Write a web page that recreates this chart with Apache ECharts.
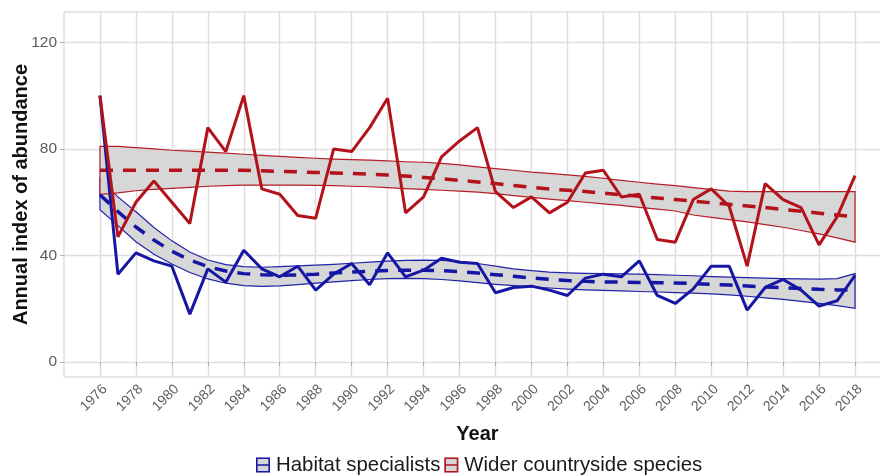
<!DOCTYPE html>
<html>
<head>
<meta charset="utf-8">
<script src="https://cdn.jsdelivr.net/npm/echarts@6/dist/echarts.min.js"></script>
<style>
html,body{margin:0;padding:0;background:#fff;}
#chart{width:880px;height:476px;}
</style>
</head>
<body>
<div id="chart"></div>
<script>
// ---- data ----
const years = [1976,1977,1978,1979,1980,1981,1982,1983,1984,1985,1986,1987,1988,1989,1990,1991,1992,1993,1994,1995,1996,1997,1998,1999,2000,2001,2002,2003,2004,2005,2006,2007,2008,2009,2010,2011,2012,2013,2014,2015,2016,2017,2018];
const xTickLabels = [1976,1978,1980,1982,1984,1986,1988,1990,1992,1994,1996,1998,2000,2002,2004,2006,2008,2010,2012,2014,2016,2018];
const yTickLabels = [0,40,80,120];
const seriesNames = ['Habitat specialists','Wider countryside species'];

// Habitat specialists (blue)
const habitatIndex = [100,33,41,38,36,18,35,30,42,35,32,36,27,33,37,29,41,32,34.5,39,37.5,37,26,28,28.5,27,25,31.5,33,32,38,25,22,27.5,36,36,19.5,28,31,27,21,23,32.5];
const habitatTrend = [62.8,56.5,50.7,45.8,41.6,38.3,35.8,34.2,33.2,32.8,32.6,32.7,33,33.4,33.8,34.1,34.4,34.5,34.5,34.3,33.9,33.4,32.8,32.2,31.6,31.1,30.6,30.3,30.1,30,29.9,29.8,29.7,29.5,29.2,28.9,28.6,28.2,27.9,27.6,27.3,27.1,27];
const habitatUpper = [68.8,62,56.4,50.5,45.5,41.3,38.3,36.6,35.8,35.6,35.8,36.1,36.4,36.7,37.1,37.5,37.9,38.2,38.3,38.2,37.8,37,36,35,34.3,33.8,33.5,33.3,33.2,33.1,33,32.8,32.6,32.4,32.1,31.9,31.7,31.5,31.3,31.2,31.1,31.3,33.2];
const habitatLower = [57.2,51.2,45.2,40.5,36.8,33.6,31.2,29.6,28.7,28.4,28.6,29.1,29.6,30.1,30.6,31,31.3,31.4,31.3,31,30.5,29.8,29.2,28.7,28.2,27.8,27.4,27.1,26.9,26.7,26.5,26.3,26.1,25.9,25.6,25.2,24.7,24.1,23.5,22.8,22,21.2,20.2];

// Wider countryside species (red)
const widerIndex = [100,47,60,68,60,52,88,79,100,65,63,55,54,80,79,88,99,56,62,77,83,88,64,58,62,56,60,71,72,62,63,46,45,61,65,58.5,36,67,61,58,44,54.5,70];
const widerTrend = [72,72,72,72,72,72,72,72,72,71.8,71.6,71.4,71.2,71,70.8,70.5,70.2,69.8,69.3,68.8,68.2,67.6,67,66.3,65.6,65,64.5,64,63.4,62.8,62.2,61.6,61,60.4,59.8,59.2,58.6,58,57.3,56.6,55.9,55.2,54.5];
const widerUpper = [81,81,80.5,80,79.5,79.2,78.8,78.4,78,77.6,77.2,76.8,76.5,76.2,76,75.8,75.5,75.2,75,74.6,74,73.3,72.6,72,71.3,70.8,70.3,69.7,69,68.2,67.5,66.8,66.2,65.5,64.8,64.2,64,64,64,64,64,64,64];
const widerLower = [63,63.5,64.3,64.8,65.2,65.6,66,66.2,66.4,66.4,66.4,66.4,66.3,66.2,66,65.8,65.5,65.1,64.8,64.5,64.2,63.8,63.2,62.5,61.8,61.2,60.6,60,59.4,58.8,58.1,57.4,56.7,55.2,54.3,53.5,52.6,51.6,50.6,49.4,48.1,46.6,45];

// ---- styling ----
const BLUE = '#1616a4';
const RED = '#b3121a';
const BAND = '#d5d5d5';
const FONT = '"Liberation Sans", Arial, sans-serif';

const pairs = (v) => years.map((y, i) => [y, v[i]]);

function bandSeries(name, lower, upper, color) {
  return {
    type: 'custom',
    name: name,
    coordinateSystem: 'cartesian2d',
    silent: true,
    data: years.map((y, i) => [y, lower[i], upper[i]]),
    encode: { x: 0, y: [1, 2] },
    renderItem: function (params, api) {
      if (params.dataIndex !== 0) return null;
      const pts = [];
      for (let i = 0; i < years.length; i++) pts.push(api.coord([years[i], upper[i]]));
      for (let i = years.length - 1; i >= 0; i--) pts.push(api.coord([years[i], lower[i]]));
      return {
        type: 'polygon',
        shape: { points: pts },
        style: { fill: BAND, stroke: color, lineWidth: 1.2, opacity: 0.95 }
      };
    },
    z: 1
  };
}

function lineSeries(name, values, color, dashed, z) {
  return {
    type: 'line',
    name: name + (dashed ? ' trend' : ' index'),
    data: pairs(values),
    symbol: 'none',
    silent: true,
    lineStyle: dashed ? { color: color, width: 3.5, type: [13, 10] } : { color: color, width: 3 },
    z: z
  };
}

const framePath = 'path://M0,0H14V15H0Z M1.6,1.6V6.7H12.4V1.6Z M1.6,8.3V13.4H12.4V8.3Z';
const legendBase = {
  orient: 'horizontal',
  left: 251,
  top: 450,
  padding: 5,
  itemWidth: 14,
  itemHeight: 15,
  itemGap: 4,
  selectedMode: false,
  textStyle: { fontFamily: FONT, fontSize: 20.4, color: '#1a1a1a', padding: [0, 0, 0, 1] }
};

const chart = echarts.init(document.getElementById('chart'), null, { renderer: 'canvas' });
chart.setOption({
  animation: false,
  backgroundColor: '#ffffff',
  textStyle: { fontFamily: FONT },
  grid: {
    left: 64, top: 12, width: 827, height: 365,
    containLabel: false,
    outerBoundsMode: 'none',
    show: true, borderColor: '#cfcfcf', borderWidth: 1, backgroundColor: '#ffffff'
  },
  legend: [
    Object.assign({}, legendBase, {
      data: [
        { name: seriesNames[0], icon: 'rect', itemStyle: { color: BAND, borderWidth: 0 } },
        { name: seriesNames[1], icon: 'rect', itemStyle: { color: BAND, borderWidth: 0 } }
      ],
      z: 5
    }),
    Object.assign({}, legendBase, {
      data: [
        { name: seriesNames[0], icon: framePath, itemStyle: { color: BLUE, borderWidth: 0 } },
        { name: seriesNames[1], icon: framePath, itemStyle: { color: RED, borderWidth: 0 } }
      ],
      textStyle: Object.assign({}, legendBase.textStyle, { color: 'rgba(0,0,0,0)' }),
      z: 6
    })
  ],
  xAxis: {
    type: 'value',
    min: 1974, max: 2020, interval: 2,
    name: 'Year',
    nameLocation: 'middle',
    nameGap: 47,
    nameTextStyle: { fontFamily: FONT, fontSize: 20, fontWeight: 'bold', color: '#111' },
    axisLine: { show: false },
    axisTick: { show: true, length: 4, lineStyle: { color: '#b0b0b0', width: 1 }, customValues: xTickLabels },
    axisLabel: {
      rotate: 45, fontSize: 14, color: '#5c5c5c', margin: 5, verticalAlign: 'top',
      customValues: xTickLabels,
      formatter: (v) => String(v)
    },
    splitLine: { show: true, lineStyle: { color: '#dedede', width: 1.4 } }
  },
  yAxis: {
    type: 'value',
    min: -5.6, max: 131.4,
    name: 'Annual index of abundance',
    nameLocation: 'middle',
    nameGap: 33,
    nameMoveOverlap: false,
    nameTextStyle: { fontFamily: FONT, fontSize: 20, fontWeight: 'bold', color: '#111' },
    axisLine: { show: false },
    axisTick: { show: true, length: 4, lineStyle: { color: '#b0b0b0', width: 1 }, customValues: yTickLabels },
    axisLabel: { fontSize: 15.5, color: '#5c5c5c', margin: 7, customValues: yTickLabels },
    splitLine: { show: true, lineStyle: { color: '#dedede', width: 1.4 } }
  },
  series: [
    bandSeries(seriesNames[0], habitatLower, habitatUpper, BLUE),
    bandSeries(seriesNames[1], widerLower, widerUpper, RED),
    lineSeries(seriesNames[0], habitatTrend, BLUE, true, 3),
    lineSeries(seriesNames[1], widerTrend, RED, true, 3),
    lineSeries(seriesNames[0], habitatIndex, BLUE, false, 4),
    lineSeries(seriesNames[1], widerIndex, RED, false, 5)
  ]
});
</script>
</body>
</html>
